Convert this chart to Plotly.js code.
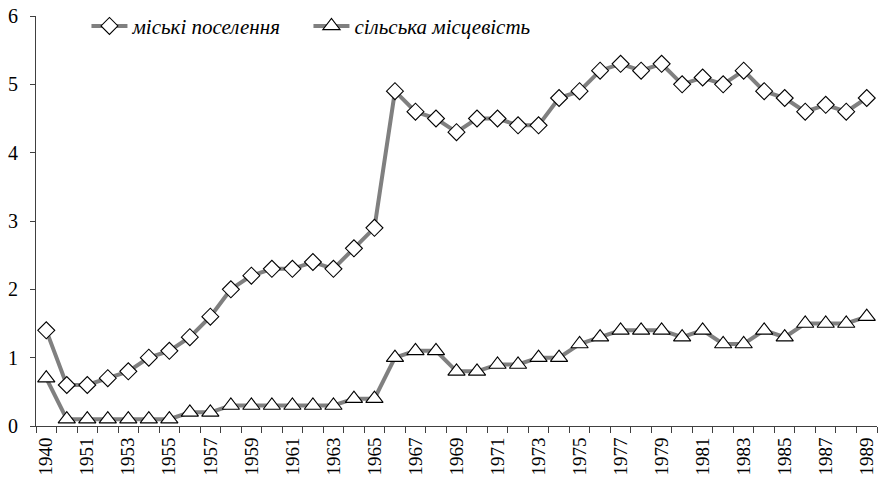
<!DOCTYPE html>
<html><head><meta charset="utf-8">
<script src="https://cdn.plot.ly/plotly-3.0.1.min.js"></script>
<style>html,body{margin:0;padding:0;background:#fff}</style>
</head><body><div id="chart" style="width:879px;height:478px"></div>
<script>
const years = ['1940','1950','1951','1952','1953','1954','1955','1956','1957','1958','1959','1960','1961','1962','1963','1964','1965','1966','1967','1968','1969','1970','1971','1972','1973','1974','1975','1976','1977','1978','1979','1980','1981','1982','1983','1984','1985','1986','1987','1988','1989'];
const urban = [1.4,0.6,0.6,0.7,0.8,1.0,1.1,1.3,1.6,2.0,2.2,2.3,2.3,2.4,2.3,2.6,2.9,4.9,4.6,4.5,4.3,4.5,4.5,4.4,4.4,4.8,4.9,5.2,5.3,5.2,5.3,5.0,5.1,5.0,5.2,4.9,4.8,4.6,4.7,4.6,4.8];
const rural = [0.7,0.1,0.1,0.1,0.1,0.1,0.1,0.2,0.2,0.3,0.3,0.3,0.3,0.3,0.3,0.4,0.4,1.0,1.1,1.1,0.8,0.8,0.9,0.9,1.0,1.0,1.2,1.3,1.4,1.4,1.4,1.3,1.4,1.2,1.2,1.4,1.3,1.5,1.5,1.5,1.6];
const seriesNames = ['міські поселення','сільська місцевість'];
const tickText = years.map((y,i)=> i%2===0 ? y : '');

const serif = 'Liberation Serif';
const traces = [
  {x: years, y: urban, name: seriesNames[0], type:'scatter', mode:'lines+markers',
   line:{color:'#808080', width:4},
   marker:{symbol:'diamond', size:13, color:'#ffffff', line:{color:'#000000', width:1.1}}},
  {x: years, y: rural, name: seriesNames[1], type:'scatter', mode:'lines+markers',
   line:{color:'#808080', width:4},
   marker:{symbol:'triangle-up', size:15, color:'#ffffff', line:{color:'#000000', width:1.1}}}
];
const layout = {
  width:879, height:478,
  font:{family:serif, color:'#000'},
  margin:{l:36, r:2, t:16, b:52},
  paper_bgcolor:'#fff', plot_bgcolor:'#fff',
  showlegend:true,
  legend:{orientation:'h', x:0.06, y:0.975, xanchor:'left', yanchor:'middle',
          font:{family:serif, size:21, color:'#000', style:'italic'}, bgcolor:'rgba(0,0,0,0)',
          itemwidth:36, entrywidth:171, entrywidthmode:'pixels', tracegroupgap:0},
  xaxis:{type:'category', range:[-0.5, 40.5], tickmode:'array', tickvals:years, ticktext:tickText,
         tickson:'boundaries', ticks:'outside', ticklen:6, tickcolor:'#404040', automargin:false,
         ticklabelstandoff:3,
         showline:true, linecolor:'#404040', linewidth:1, showgrid:false, zeroline:false,
         tickangle:-90, tickfont:{family:serif, size:19, color:'#000'}},
  yaxis:{range:[0,6], dtick:1, ticks:'outside', ticklen:5, tickcolor:'#404040', automargin:false,
         ticklabelstandoff:8,
         showline:true, linecolor:'#404040', linewidth:1, showgrid:false, zeroline:false,
         tickfont:{family:serif, size:20, color:'#000'}}
};
Plotly.newPlot('chart', traces, layout, {displayModeBar:false, staticPlot:true});
</script></body></html>
